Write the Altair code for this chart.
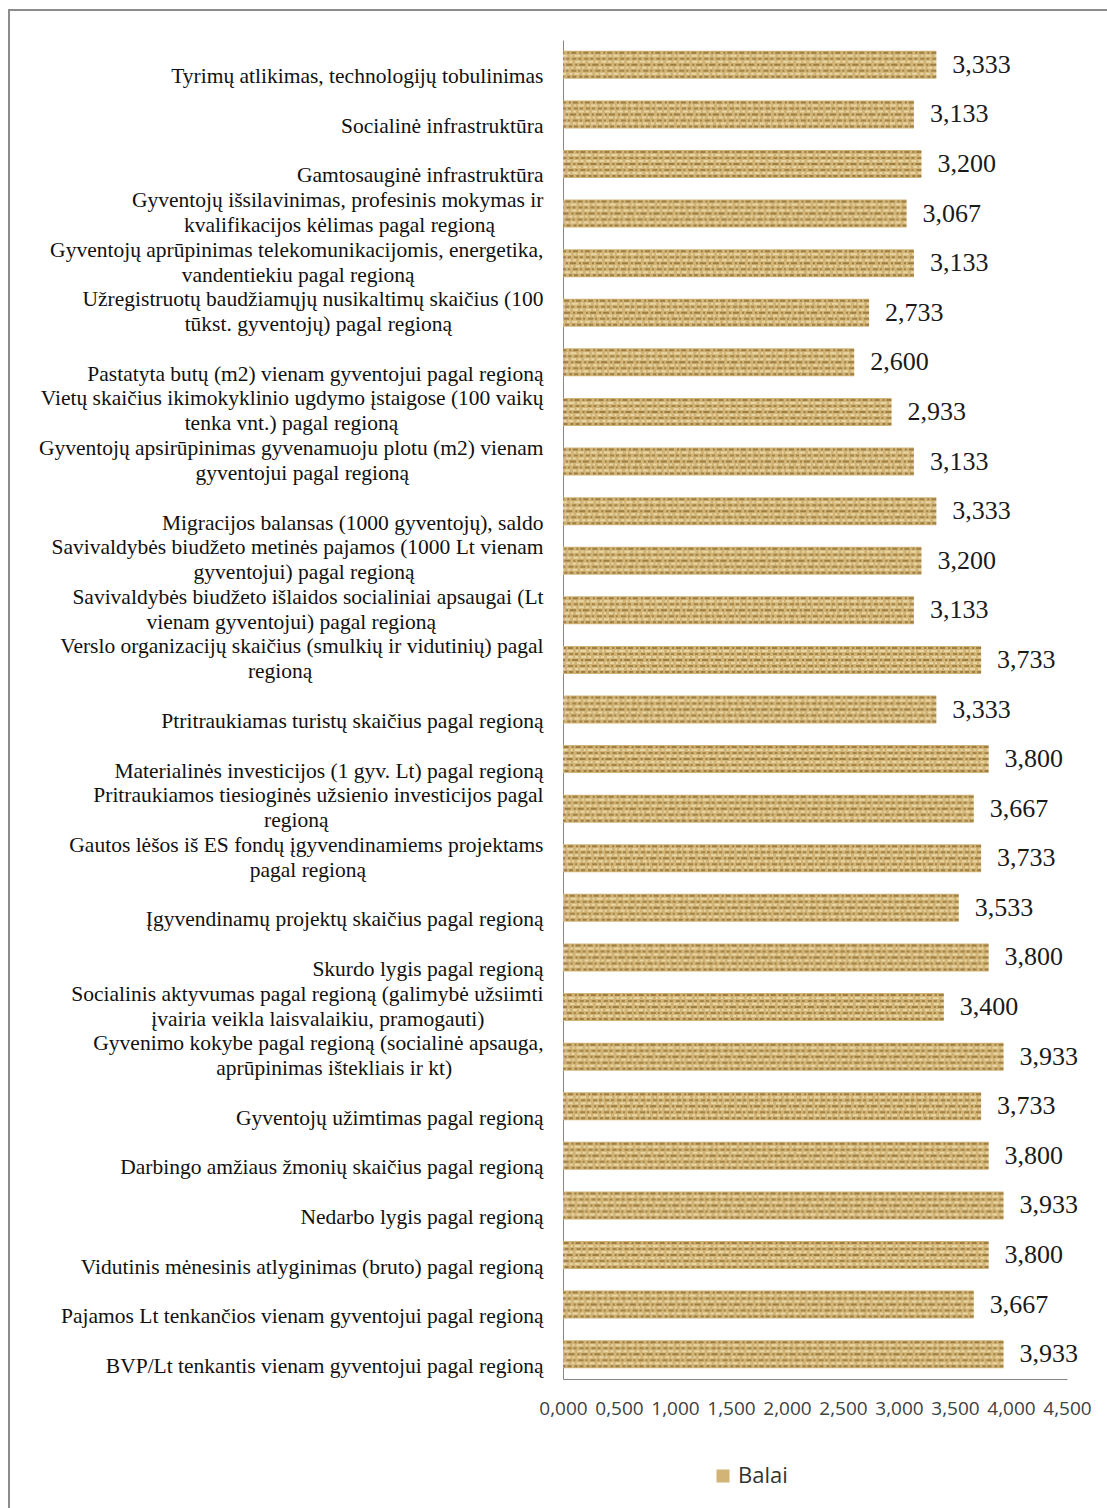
import altair as alt
import pandas as pd

categories = [
    "Tyrimų atlikimas, technologijų tobulinimas",
    "Socialinė infrastruktūra",
    "Gamtosauginė infrastruktūra",
    "Gyventojų išsilavinimas, profesinis mokymas ir|kvalifikacijos kėlimas pagal regioną",
    "Gyventojų aprūpinimas telekomunikacijomis, energetika,|vandentiekiu pagal regioną",
    "Užregistruotų baudžiamųjų nusikaltimų skaičius (100|tūkst. gyventojų) pagal regioną",
    "Pastatyta butų (m2) vienam gyventojui pagal regioną",
    "Vietų skaičius ikimokyklinio ugdymo įstaigose (100 vaikų|tenka vnt.) pagal regioną",
    "Gyventojų apsirūpinimas gyvenamuoju plotu (m2) vienam|gyventojui pagal regioną",
    "Migracijos balansas (1000 gyventojų), saldo",
    "Savivaldybės biudžeto metinės pajamos (1000 Lt vienam|gyventojui) pagal regioną",
    "Savivaldybės biudžeto išlaidos socialiniai apsaugai (Lt|vienam gyventojui) pagal regioną",
    "Verslo organizacijų skaičius (smulkių ir vidutinių) pagal|regioną",
    "Ptritraukiamas turistų skaičius pagal regioną",
    "Materialinės investicijos (1 gyv. Lt) pagal regioną",
    "Pritraukiamos tiesioginės užsienio investicijos pagal|regioną",
    "Gautos lėšos iš ES fondų įgyvendinamiems projektams|pagal regioną",
    "Įgyvendinamų projektų skaičius pagal regioną",
    "Skurdo lygis pagal regioną",
    "Socialinis aktyvumas pagal regioną (galimybė užsiimti|įvairia veikla laisvalaikiu, pramogauti)",
    "Gyvenimo kokybe pagal regioną (socialinė apsauga,|aprūpinimas ištekliais ir kt)",
    "Gyventojų užimtimas pagal regioną",
    "Darbingo amžiaus žmonių skaičius pagal regioną",
    "Nedarbo lygis pagal regioną",
    "Vidutinis mėnesinis atlyginimas (bruto) pagal regioną",
    "Pajamos Lt tenkančios vienam gyventojui pagal regioną",
    "BVP/Lt tenkantis vienam gyventojui pagal regioną",
]
values = [3.333, 3.133, 3.200, 3.067, 3.133, 2.733, 2.600, 2.933, 3.133, 3.333,
          3.200, 3.133, 3.733, 3.333, 3.800, 3.667, 3.733, 3.533, 3.800, 3.400,
          3.933, 3.733, 3.800, 3.933, 3.800, 3.667, 3.933]
series_name = "Balai"
x_ticks = [0, 0.5, 1, 1.5, 2, 2.5, 3, 3.5, 4, 4.5]

df = pd.DataFrame({"cat": categories, "v": values, "series": series_name})

W, H = 504, 1339
fmt = "replace(format(datum.value, '.3f'), '.', ',')"

NB = "\u00a0"
ZW = "\u200b"
L1 = "split(datum.label, '|')[0]"
L2 = "split(datum.label, '|')[1]"
# centre the shorter line of a two-line label under the longer one (right-aligned block);
# a zero-width character keeps the trailing no-break spaces from being trimmed
line1 = (f"pad({L1}, length({L1}) + max(0, round((length({L2}) - length({L1})) * 0.86)), "
         f"'{NB}', 'right') + '{ZW}'")
line2 = (f"pad({L2}, length({L2}) + max(0, round((length({L1}) - length({L2})) * 0.86)), "
         f"'{NB}', 'right') + '{ZW}'")
label_expr = f"indexof(datum.label, '|') >= 0 ? [{line1}, {line2}] : ['', datum.label]"

y_enc = alt.Y(
    "cat:N", sort=categories,
    scale=alt.Scale(paddingInner=0.435, paddingOuter=0.2175),
    axis=alt.Axis(
        title=None, ticks=False, domainColor="#868686", domainWidth=1,
        labelExpr=label_expr,
        labelFont="Liberation Serif", labelFontSize=21.5, labelColor="#111",
        labelLineHeight=25, labelPadding=20, labelLimit=600, labelAlign="right",
        labelOffset=-12.5,
    ),
)
x_enc = alt.X(
    "v:Q", scale=alt.Scale(domain=[0, 4.5], nice=False),
    axis=alt.Axis(
        title=None, values=x_ticks, ticks=False, grid=False,
        domainColor="#868686", domainWidth=1, labelExpr=fmt,
        labelFont="Open Sans", labelFontSize=19, labelColor="#404040",
        labelPadding=20, labelFlush=False, labelOverlap=False,
    ),
)

base = alt.Chart(df)

bars = base.mark_bar(size=28).encode(
    x=x_enc, y=y_enc,
    color=alt.Color(
        "series:N",
        scale=alt.Scale(domain=[series_name], range=["#d2b476"]),
        legend=alt.Legend(
            title=None, orient="none", legendX=149, legendY=1425,
            symbolType="square", symbolSize=170, symbolStrokeWidth=0,
            labelFont="Open Sans", labelFontSize=22, labelColor="#333",
        ),
    ),
)

texture_layers = []
rows = [(-12, [5, 2, 2, 3], "#7a5a22"), (-9, [2, 3, 6, 2], "#f8ecc4"),
        (-6, [4, 3, 3, 2], "#86662a"), (-3, [3, 2, 5, 3], "#f8ecc4"),
        (0, [6, 2, 2, 3], "#7a5a22"), (3, [2, 2, 4, 3], "#f8ecc4"),
        (6, [5, 3, 2, 2], "#86662a"), (9, [3, 3, 5, 2], "#f8ecc4"),
        (12, [4, 2, 3, 3], "#7a5a22")]
for off, dash, col in rows:
    texture_layers.append(
        base.mark_rule(strokeWidth=2, strokeDash=dash, opacity=0.6, yOffset=off,
                       color=col).encode(
            x=alt.X("v:Q"), x2=alt.value(0), y=alt.Y("cat:N", sort=categories)
        )
    )

labels = base.mark_text(
    align="left", baseline="middle", dx=16, font="Liberation Serif",
    fontSize=26, color="#1a1a1a",
).transform_calculate(
    lab="replace(format(datum.v, '.3f'), '.', ',')"
).encode(
    x="v:Q", y=alt.Y("cat:N", sort=categories), text="lab:N"
)

frame = alt.Chart(alt.Data(values=[{"a": 1}])).mark_rect(
    fill=None, stroke="#8c8c8c", strokeWidth=2
).encode(
    x=alt.value(-554), x2=alt.value(580), y=alt.value(-30), y2=alt.value(1500)
)

chart = alt.layer(frame, bars, *texture_layers, labels).properties(
    width=W, height=H,
    autosize=alt.AutoSizeParams(type="none"),
    padding={"left": 563, "top": 40, "right": 40, "bottom": 129},
).configure(
    background="white", view=alt.ViewConfig(strokeWidth=0, stroke="transparent")
)

chart.save("out.html", embed_options={"renderer": "svg", "actions": False})
